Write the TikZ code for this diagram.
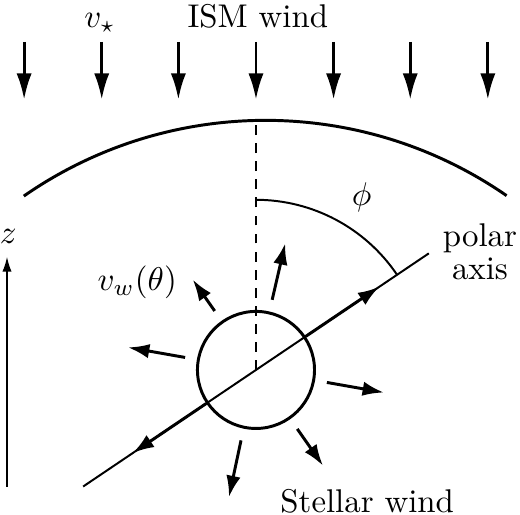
\documentclass[tikz,border=0pt]{standalone}
\usepackage{amsmath,amssymb}
\usepackage{xcolor}
\usepackage{tikz}
\usetikzlibrary{calc,arrows.meta}
\definecolor{ink}{HTML}{000000}
\tikzset{
  flow/.style={draw=ink, line width=0.9pt, -{Latex[length=8pt,width=4.6pt]}},
  wind/.style={draw=ink, line width=0.9pt, -{Latex[length=6.5pt,width=4.4pt]}},
  shell/.style={draw=ink, line width=0.9pt},
  star/.style={circle, draw=ink, line width=0.9pt, inner sep=0pt, minimum size=1.252cm},
  pole/.style={draw=ink, line width=0.6pt},
  zax/.style={draw=ink, line width=0.45pt, -{Latex[length=4.5pt,width=2.8pt]}},
  help/.style={draw=ink, line width=0.6pt, dash pattern=on 3pt off 2.5pt},
  lab/.style={text=ink, inner sep=0pt},
}
\begin{document}
\begin{tikzpicture}
  \useasboundingbox (-2.738,-1.551) rectangle (2.824,3.957);
  \coordinate (O) at (0,0);

  % ISM wind
  \foreach \x [count=\i] in {-2.48,-1.65,-0.83,0,0.83,1.65,2.48} {
    \coordinate (ismT\i) at (\x,3.51);
    \coordinate (ismB\i) at (\x,2.89);
    \draw[flow] (ismT\i) -- (ismB\i);
  }
  \node[lab, anchor=base] (ism) at (0.02,3.66) {ISM wind};
  \node[lab, anchor=base] (vstar) at (-1.67,3.66) {$v_\star$};

  % bow shock
  \coordinate (C) at (0.102,-1.86);
  \draw[shell] ($(C)+(124.8:4.53)$) arc[start angle=124.8, end angle=55.3, radius=4.53];
  \coordinate (apex) at (0,2.67);
  \draw[help] (O) -- (apex);

  % star and polar axis
  \node[star] (S) at (O) {};
  \coordinate (pA) at (34:2.23);
  \coordinate (pB) at (214:2.23);
  \coordinate (hA) at (34:1.59);
  \coordinate (hB) at (214:1.59);
  \draw[pole] (pB) -- (pA);
  \draw[wind] (S.34) -- (hA);
  \draw[wind] (S.214) -- (hB);

  % angle phi
  \coordinate (phiA) at (90:1.82);
  \draw[pole] (phiA) arc[start angle=90, end angle=34, radius=1.82];
  \node[lab] (phi) at (1.13,1.85) {$\phi$};

  % stellar wind
  \foreach \a/\r [count=\i] in {77/1.39, 125/1.18, 170/1.39, -10/1.39, -55/1.25, -102/1.39} {
    \coordinate (wS\i) at (\a:0.77);
    \coordinate (wE\i) at (\a:\r);
    \draw[wind] (wS\i) -- (wE\i);
  }
  \node[lab] (vw) at (-1.27,0.94) {$v_w(\theta)$};
  \node[lab, anchor=base] (sw) at (1.19,-1.53) {Stellar wind};
  \node[lab, align=center] (polar) at (2.396,1.262) {polar\\[-2pt]axis};

  % z axis
  \coordinate (zB) at (-2.663,-1.25);
  \coordinate (zT) at (-2.663,1.21);
  \draw[zax] (zB) -- (zT);
  \node[lab] (z) at (-2.65,1.43) {$z$};
\end{tikzpicture}
\end{document}
